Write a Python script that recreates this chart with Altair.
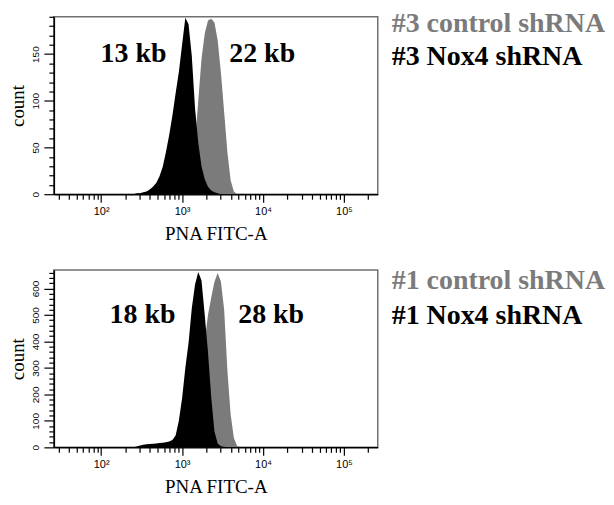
import altair as alt
import pandas as pd

# bin centres (log10 of PNA FITC-A intensity)
BIN_LOG = [2.40, 2.44, 2.48, 2.52, 2.56, 2.60, 2.64, 2.68, 2.72, 2.76,
           2.80, 2.84, 2.88, 2.92, 2.96, 3.00, 3.04, 3.08, 3.12, 3.16,
           3.20, 3.24, 3.28, 3.32, 3.36, 3.40, 3.44, 3.48, 3.52, 3.56,
           3.60, 3.64, 3.68, 3.72]

# top panel (#3)
TOP_NOX4 = [0, 1, 1, 2, 3, 5, 8, 12, 19, 29,
            45, 63, 84, 108, 131, 160, 189, 182, 148, 92,
            55, 30, 16, 8, 4, 2, 1, 0, 0, 0,
            0, 0, 0, 0]
TOP_CTRL = [0, 0, 0, 0, 0, 0, 0, 0, 0, 0,
            0, 1, 2, 3, 5, 8, 13, 20, 32, 55,
            100, 145, 172, 186, 188, 184, 165, 130, 88, 45,
            15, 3, 0, 0]

# bottom panel (#1)
BOT_NOX4 = [0, 3, 7, 10, 12, 13, 14, 15, 16, 17,
            19, 22, 28, 45, 100, 185, 300, 395, 525, 615,
            662, 630, 500, 360, 190, 60, 15, 4, 2, 0,
            0, 0, 0, 0]
BOT_CTRL = [0, 0, 0, 0, 0, 0, 0, 0, 0, 0,
            0, 0, 0, 3, 5, 8, 12, 20, 35, 65,
            130, 240, 400, 500, 565, 625, 658, 625, 520, 290,
            125, 35, 5, 0]

TOP_KB = ["13 kb", "22 kb"]
BOT_KB = ["18 kb", "28 kb"]
TOP_LEGEND = ["#3 control shRNA", "#3 Nox4 shRNA"]
BOT_LEGEND = ["#1 control shRNA", "#1 Nox4 shRNA"]

X_DOMAIN = [26, 262144]
X_TICKS = [30, 40, 50, 60, 70, 80, 90,
           100, 200, 300, 400, 500, 600, 700, 800, 900,
           1000, 2000, 3000, 4000, 5000, 6000, 7000, 8000, 9000,
           10000, 20000, 30000, 40000, 50000, 60000, 70000, 80000, 90000,
           100000, 200000]
X_LABELS = {100: "10²", 1000: "10³", 10000: "10⁴", 100000: "10⁵"}

GRAY = "#7b7b7b"
BLACK = "#000000"
SERIF = "Liberation Serif"
SANS = "Liberation Sans"
FS = 28


def frame(counts):
    return pd.DataFrame({"fitc": [10 ** v for v in BIN_LOG], "count": counts})


major_x = " || ".join(f"datum.value == {k}" for k in X_LABELS)
label_x = " : ".join(f"datum.value == {k} ? '{v}'" for k, v in X_LABELS.items()) + " : ''"


def panel(ctrl, nox, ymax, ytick_step, ylabel_step, kb, kb_pos, legend, leg_y):
    x = alt.X("fitc:Q",
              scale=alt.Scale(type="log", domain=X_DOMAIN, nice=False),
              axis=alt.Axis(values=X_TICKS, labelExpr=label_x, title="PNA FITC-A",
                            tickSize={"condition": {"test": major_x, "value": 8}, "value": 5},
                            labelFontSize=11, labelPadding=3, titlePadding=8,
                            labelFlush=False))
    yvals = list(range(0, ymax + 1, ytick_step))
    yaxis = alt.Axis(values=yvals,
                     labelExpr=f"datum.value % {ylabel_step} == 0 ? datum.label : ''",
                     tickSize={"condition": {"test": f"datum.value % {ylabel_step} == 0", "value": 10},
                               "value": 5},
                     labelAngle=270, labelAlign="center", labelBaseline="bottom",
                     labelFontSize=10, labelPadding=3, title="count", titlePadding=3)
    y = alt.Y("count:Q", stack=None, scale=alt.Scale(domain=[0, ymax], nice=False), axis=yaxis)
    ctrl_area = alt.Chart(frame(ctrl)).mark_area(
        color=GRAY, interpolate="linear", clip=True).encode(x=x, y=y)
    nox_area = alt.Chart(frame(nox)).mark_area(
        color=BLACK, interpolate="linear", clip=True).encode(x=x, y=y)
    base = alt.Chart(pd.DataFrame({"a": [0]}))
    kb_left = base.mark_text(font=SERIF, fontSize=FS, fontWeight="bold", align="right",
                             baseline="alphabetic", color=BLACK).encode(
        x=alt.value(kb_pos[0]), y=alt.value(kb_pos[2]), text=alt.value(kb[0]))
    kb_right = base.mark_text(font=SERIF, fontSize=FS, fontWeight="bold", align="left",
                              baseline="alphabetic", color=BLACK).encode(
        x=alt.value(kb_pos[1]), y=alt.value(kb_pos[2]), text=alt.value(kb[1]))
    leg1 = base.mark_text(font=SERIF, fontSize=FS, fontWeight="bold", align="left",
                          baseline="alphabetic", color=GRAY).encode(
        x=alt.value(339), y=alt.value(leg_y[0]), text=alt.value(legend[0]))
    leg2 = base.mark_text(font=SERIF, fontSize=FS, fontWeight="bold", align="left",
                          baseline="alphabetic", color=BLACK).encode(
        x=alt.value(339), y=alt.value(leg_y[1]), text=alt.value(legend[1]))
    return alt.layer(ctrl_area, nox_area, kb_left, kb_right, leg1, leg2).properties(
        width=325, height=178)


top = panel(TOP_CTRL, TOP_NOX4, 190, 10, 50, TOP_KB, (113, 176, 45), TOP_LEGEND, (15, 48))
bottom = panel(BOT_CTRL, BOT_NOX4, 670, 20, 100, BOT_KB, (122, 185, 53), BOT_LEGEND, (19, 54))

chart = alt.vconcat(top, bottom, spacing=76, bounds="flush").properties(
    padding={"left": 0, "top": 0, "right": 0, "bottom": 0}
).configure_view(stroke="#707070", strokeWidth=1.5).configure_axis(
    grid=False, domainColor="#000", domainWidth=1.5, tickColor="#000", tickWidth=1.2,
    labelFont=SANS, labelColor="#000", titleFont=SERIF, titleFontSize=19,
    titleFontWeight="normal", titleColor="#000")

chart.save("out.html", embed_options={"renderer": "svg", "actions": False})
